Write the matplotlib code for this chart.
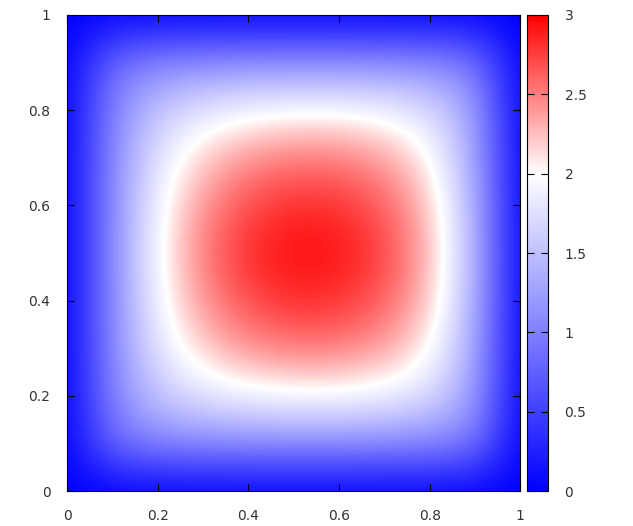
import numpy as np
import matplotlib
matplotlib.use("Agg")
import matplotlib.pyplot as plt
from matplotlib.colors import LinearSegmentedColormap

# field values on a 0.1 grid (rows: y = 0 .. 1, cols: x = 0 .. 1)
x_pts = [0.0, 0.1, 0.2, 0.3, 0.4, 0.5, 0.6, 0.7, 0.8, 0.9, 1.0]
y_pts = [0.0, 0.1, 0.2, 0.3, 0.4, 0.5, 0.6, 0.7, 0.8, 0.9, 1.0]
field = [
    [0, 0.00, 0.00, 0.00, 0.00, 0.00, 0.00, 0.00, 0.00, 0.00, 0],
    [0, 0.85, 1.04, 1.08, 1.10, 1.10, 1.10, 1.09, 1.07, 0.95, 0],
    [0, 1.04, 1.55, 1.80, 1.92, 1.97, 1.97, 1.90, 1.72, 1.24, 0],
    [0, 1.08, 1.80, 2.20, 2.43, 2.52, 2.51, 2.37, 2.05, 1.30, 0],
    [0, 1.10, 1.92, 2.43, 2.71, 2.83, 2.81, 2.63, 2.24, 1.37, 0],
    [0, 1.10, 1.96, 2.53, 2.83, 2.95, 2.93, 2.74, 2.30, 1.40, 0],
    [0, 1.10, 1.92, 2.43, 2.71, 2.83, 2.81, 2.63, 2.24, 1.37, 0],
    [0, 1.08, 1.80, 2.20, 2.43, 2.52, 2.51, 2.37, 2.05, 1.30, 0],
    [0, 1.04, 1.55, 1.80, 1.92, 1.97, 1.97, 1.90, 1.72, 1.24, 0],
    [0, 0.85, 1.04, 1.08, 1.10, 1.10, 1.10, 1.09, 1.07, 0.95, 0],
    [0, 0.00, 0.00, 0.00, 0.00, 0.00, 0.00, 0.00, 0.00, 0.00, 0],
]
ticks = [0, 0.2, 0.4, 0.6, 0.8, 1]
tick_labels = ["0", "0.2", "0.4", "0.6", "0.8", "1"]
cb_ticks = [0, 0.5, 1, 1.5, 2, 2.5, 3]
cb_labels = ["0", "0.5", "1", "1.5", "2", "2.5", "3"]

cmap = LinearSegmentedColormap.from_list(
    "bwr_gp", [(0.0, "#0000ff"), (2 / 3, "#ffffff"), (1.0, "#ff0000")])

fig = plt.figure(figsize=(6.33, 5.26), dpi=100)
ax = fig.add_axes([0.106, 0.0665, 0.716, 0.905])
cax = fig.add_axes([0.8325, 0.0665, 0.033, 0.905])

dx = (x_pts[1] - x_pts[0]) / 2
dy = (y_pts[1] - y_pts[0]) / 2
im = ax.imshow(np.array(field), origin="lower", cmap=cmap, vmin=0, vmax=3,
               interpolation="bicubic", aspect="auto",
               extent=(x_pts[0] - dx, x_pts[-1] + dx, y_pts[0] - dy, y_pts[-1] + dy))
ax.set_xlim(0, 1)
ax.set_ylim(0, 1)

txt = "#333333"
ax.set_xticks(ticks)
ax.set_xticklabels(tick_labels)
ax.set_yticks(ticks)
ax.set_yticklabels(tick_labels)
ax.tick_params(direction="in", top=True, right=True, length=5, width=0.8,
               labelsize=10, labelcolor=txt)
ax.tick_params(axis="x", pad=13)
ax.tick_params(axis="y", pad=12)
for s in ax.spines.values():
    s.set_linewidth(0.8)

cb = fig.colorbar(im, cax=cax)
cb.set_ticks(cb_ticks)
cb.set_ticklabels(cb_labels)
cax.tick_params(direction="in", left=True, right=True, length=5, width=0.8,
                labelsize=10, labelcolor=txt, pad=12)
cb.outline.set_linewidth(0.8)

fig.savefig("out.png", dpi=100)
